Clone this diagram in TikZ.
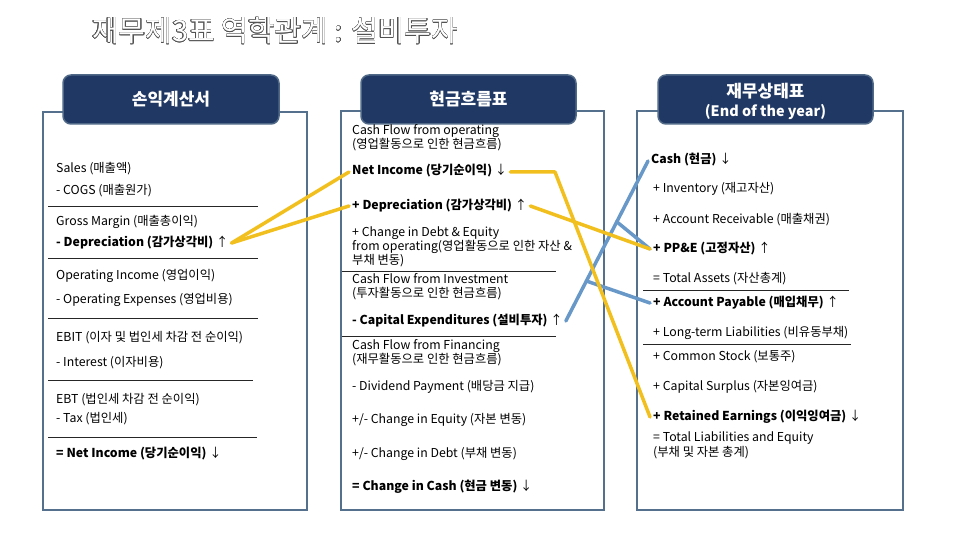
\documentclass[tikz,border=0pt]{standalone}
\usepackage{fontspec}
\setmainfont{Noto Sans CJK KR}
\usepackage{contour}
\contourlength{0.4pt}
\usetikzlibrary{calc}
\definecolor{navy}{RGB}{32,56,100}
\definecolor{hdrline}{RGB}{80,105,135}
\definecolor{boxline}{RGB}{84,112,140}
\definecolor{gold}{RGB}{242,192,30}
\definecolor{lblue}{RGB}{104,152,200}
\definecolor{titlegray}{RGB}{80,80,80}
\tikzset{
  panel/.style={draw=boxline, line width=2pt},
  header/.style={draw=hdrline, line width=1.5pt, fill=navy, rounded corners=8pt},
  hdrtext/.style={text=white, font=\fontsize{17}{20}\selectfont\bfseries, align=center},
  txt/.style={anchor=west, inner xsep=3pt, inner ysep=0pt, text height=9pt, text depth=3pt, font=\fontsize{12.3}{14}\selectfont},
  rule/.style={draw=black!85, line width=0.8pt},
  yline/.style={draw=gold, line width=3.5pt, line cap=round, line join=round},
  bline/.style={draw=lblue, line width=3.5pt, line cap=round, line join=round}
}
\begin{document}
\begin{tikzpicture}[x=1pt,y=-1pt]
\useasboundingbox (0,0) rectangle (960,540);
% title
\node[anchor=west, inner sep=0pt, font=\fontsize{29}{32}\selectfont, text=white] (title) at (92,31) {\contour{titlegray}{재무제3표 역학관계 : 설비투자}};
% panels
\draw[panel] (43,112) rectangle (307,510);
\draw[panel] (341,111) rectangle (604,510);
\draw[panel] (637,111) rectangle (903,510);
% headers
\node[header, minimum width=216pt, minimum height=49pt] (h1) at (171,99.5) {};
\node[hdrtext] (h1t) at (171,99.5) {손익계산서};
\node[header, minimum width=215pt, minimum height=49pt] (h2) at (468.5,99.5) {};
\node[hdrtext] (h2t) at (468.5,99.5) {현금흐름표};
\node[header, minimum width=215pt, minimum height=49pt] (h3) at (765.5,99.5) {};
\node[hdrtext] (h3t) at (765.5,91) {재무상태표};
\node[text=white, font=\fontsize{14.4}{16}\selectfont\bfseries] (h3s) at (765.5,112) {(End of the year)};
% left column
\node[txt] (L1) at (53,169) {Sales (매출액)};
\node[txt] (L2) at (53,191) {- COGS (매출원가)};
\draw[rule] (48,206) -- (258,206);
\node[txt] (L3) at (53,222) {Gross Margin (매출총이익)};
\node[txt] (L4) at (53,243) {\textbf{- Depreciation (감가상각비)} ↑};
\draw[rule] (48,258) -- (258,258);
\node[txt] (L5) at (53,276) {Operating Income (영업이익)};
\node[txt] (L6) at (53,300) {- Operating Expenses (영업비용)};
\draw[rule] (48,318) -- (258,318);
\node[txt] (L7) at (53,338) {EBIT (이자 및 법인세 차감 전 순이익)};
\node[txt] (L8) at (53,363) {- Interest (이자비용)};
\draw[rule] (48,380) -- (253,380);
\node[txt] (L9) at (53,400) {EBT (법인세 차감 전 순이익)};
\node[txt] (L10) at (53,419) {- Tax (법인세)};
\draw[rule] (48,437) -- (257,437);
\node[txt] (L11) at (53,454) {\textbf{= Net Income (당기순이익)} ↓};
% middle column
\node[txt] (M1) at (349,132) {Cash Flow from operating};
\node[txt] (M2) at (349,146) {(영업활동으로 인한 현금흐름)};
\node[txt] (M3) at (349,172) {\textbf{Net Income (당기순이익)} ↓};
\node[txt] (M4) at (349,206) {\textbf{+ Depreciation (감가상각비)} ↑};
\node[txt] (M5) at (349,233) {+ Change in Debt \& Equity};
\node[txt] (M6) at (349,247) {from operating(영업활동으로 인한 자산 \&};
\node[txt] (M7) at (349,261) {부채 변동)};
\draw[rule] (342,271) -- (556,271);
\node[txt] (M8) at (349,280) {Cash Flow from Investment};
\node[txt] (M9) at (349,294) {(투자활동으로 인한 현금흐름)};
\node[txt] (M10) at (349,321) {\textbf{- Capital Expenditures (설비투자)} ↑};
\draw[rule] (342,336) -- (556,336);
\node[txt] (M11) at (349,346) {Cash Flow from Financing};
\node[txt] (M12) at (349,360) {(재무활동으로 인한 현금흐름)};
\node[txt] (M13) at (349,387) {- Dividend Payment (배당금 지급)};
\node[txt] (M14) at (349,420) {+/- Change in Equity (자본 변동)};
\node[txt] (M15) at (349,454) {+/- Change in Debt (부채 변동)};
\node[txt] (M16) at (349,487) {\textbf{= Change in Cash (현금 변동)} ↓};
% right column
\node[txt] (R1) at (648,161) {\textbf{Cash (현금)} ↓};
\node[txt] (R2) at (650,189) {+ Inventory (재고자산)};
\node[txt] (R3) at (650,220) {+ Account Receivable (매출채권)};
\node[txt] (R4) at (650,249) {\textbf{+ PP\&E (고정자산)} ↑};
\node[txt] (R5) at (650,279) {= Total Assets (자산총계)};
\draw[rule] (643,290) -- (849,290);
\node[txt] (R6) at (650,303) {\textbf{+ Account Payable (매입채무)} ↑};
\node[txt] (R7) at (650,333) {+ Long-term Liabilities (비유동부채)};
\draw[rule] (643,344) -- (851,344);
\node[txt] (R8) at (650,357) {+ Common Stock (보통주)};
\node[txt] (R9) at (650,387) {+ Capital Surplus (자본잉여금)};
\node[txt] (R10) at (650,417) {\textbf{+ Retained Earnings (이익잉여금)} ↓};
\node[txt] (R11) at (650,438) {= Total Liabilities and Equity};
\node[txt] (R12) at (650,453) {(부채 및 자본 총계)};
% connectors
\coordinate (bend) at (555,172);
\path[bline] (M10.east) -- (R1.west);
\coordinate (b1) at ($(M10.east)!0.62!(R1.west)$);
\coordinate (b2) at ($(M10.east)!0.25!(R1.west)$);
\path[bline] (b1) -- (R4.west);
\path[bline] (b2) -- (R6.west);
\path[yline] (L4.east) -- (M3.west);
\path[yline] (L4.east) -- (M4.west);
\path[yline] (M3.east) -- (bend) -- (R10.west);
\path[yline] (M4.east) -- (R4.west);
\end{tikzpicture}
\end{document}
